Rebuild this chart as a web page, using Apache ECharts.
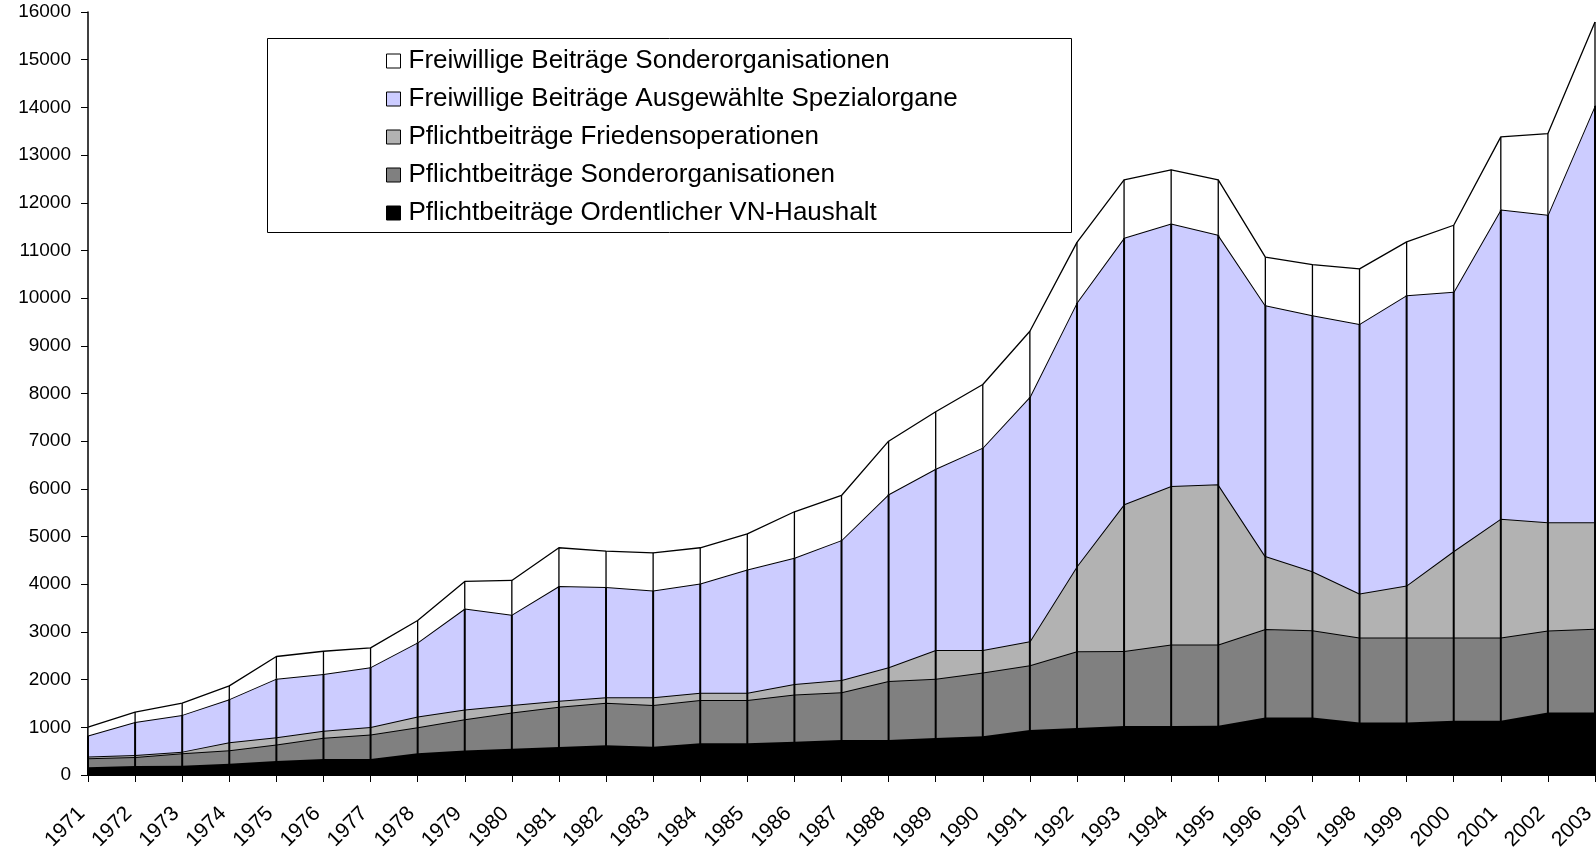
<!DOCTYPE html>
<html>
<head>
<meta charset="utf-8">
<script src="https://cdn.jsdelivr.net/npm/echarts@6/dist/echarts.min.js"></script>
<style>
html,body{margin:0;padding:0;background:#fff;}
#chart{width:1596px;height:849px;}
</style>
</head>
<body>
<div id="chart"></div>
<script>
const years = ['1971','1972','1973','1974','1975','1976','1977','1978','1979','1980','1981','1982','1983','1984','1985','1986','1987','1988','1989','1990','1991','1992','1993','1994','1995','1996','1997','1998','1999','2000','2001','2002','2003'];

const seriesNames = [
  'Pflichtbeiträge Ordentlicher VN-Haushalt',
  'Pflichtbeiträge Sonderorganisationen',
  'Pflichtbeiträge Friedensoperationen',
  'Freiwillige Beiträge Ausgewählte Spezialorgane',
  'Freiwillige Beiträge Sonderorganisationen'
];

const ordentlicherHaushalt = [160,190,195,235,295,335,335,455,515,550,585,625,595,665,665,695,735,735,775,810,945,985,1025,1030,1035,1205,1205,1100,1100,1140,1140,1310,1310];
const pflichtSonderorg = [190,185,260,285,345,445,515,545,655,760,845,890,875,910,910,995,1000,1235,1245,1340,1355,1610,1575,1705,1700,1855,1830,1785,1785,1745,1745,1720,1755];
const friedensoperationen = [40,45,35,165,150,150,155,225,205,160,125,115,160,150,150,220,255,290,600,470,505,1785,3075,3323,3360,1530,1235,920,1090,1810,2490,2270,2235];
const spezialorgane = [440,690,770,905,1230,1190,1255,1555,2115,1890,2407,2310,2240,2290,2585,2645,2935,3625,3800,4245,5127,5530,5589,5506,5232,5260,5370,5653,6085,5441,6481,6450,8740];
const freiwilligSonderorg = [175,210,245,280,465,475,405,460,570,720,803,755,790,750,748,965,937,1115,1196,1324,1374,1260,1216,1126,1153,1008,1064,1156,1120,1392,1525,1701,1750];

const yTicks = [0,1000,2000,3000,4000,5000,6000,7000,8000,9000,10000,11000,12000,13000,14000,15000,16000];

const layers = [ordentlicherHaushalt, pflichtSonderorg, friedensoperationen, spezialorgane, freiwilligSonderorg];
const fills = ['#000000', '#808080', '#B2B2B2', '#CCCCFF', '#FFFFFF'];

// stacked sums for drop lines
const dropData = years.map((y, i) => {
  const lower = layers.slice(0, 4).reduce((s, a) => s + a[i], 0);
  const total = lower + layers[4][i];
  return [i, lower, total];
});

const FONT = "'Liberation Sans', Arial, sans-serif";

const series = layers.map((arr, k) => ({
  name: seriesNames[k],
  type: 'line',
  stack: 'total',
  data: arr,
  symbol: 'none',
  smooth: false,
  z: 2 + k * 0.01,
  lineStyle: { color: '#000', width: k === 4 ? 1.3 : 2 },
  areaStyle: { color: fills[k], opacity: 1 },
  itemStyle: { color: fills[k], borderColor: '#000', borderWidth: 1 },
  emphasis: { disabled: true }
}));

series.push({
  name: 'drop',
  type: 'custom',
  z: 5,
  silent: true,
  data: dropData,
  encode: { x: 0, y: [1, 2] },
  renderItem: function (params, api) {
    const p0 = api.coord([api.value(0), 0]);
    const p1 = api.coord([api.value(0), api.value(1)]);
    const p2 = api.coord([api.value(0), api.value(2)]);
    return {
      type: 'group',
      children: [
        { type: 'line', shape: { x1: p0[0], y1: p0[1], x2: p1[0], y2: p1[1] }, style: { stroke: '#000', lineWidth: 2 } },
        { type: 'line', shape: { x1: p1[0], y1: p1[1], x2: p2[0], y2: p2[1] }, style: { stroke: '#000', lineWidth: 1.3 } }
      ]
    };
  }
});

const chart = echarts.init(document.getElementById('chart'), null, { renderer: 'canvas' });
chart.setOption({
  animation: false,
  backgroundColor: '#fff',
  textStyle: { fontFamily: FONT },
  grid: { left: 88, right: 1, top: 12, bottom: 74, containLabel: false, outerBoundsMode: 'none' },
  graphic: [{
    type: 'rect', z: 3,
    shape: { x: 267.5, y: 38.5, width: 804, height: 194 },
    style: { fill: '#fff', stroke: '#000', lineWidth: 1 }
  }],
  legend: {
    orient: 'vertical',
    left: 381, top: 43,
    z: 10,
    icon: 'rect',
    itemWidth: 14, itemHeight: 14,
    itemGap: 12,
    selectedMode: false,
    data: seriesNames.slice().reverse(),
    itemStyle: { borderColor: '#000', borderWidth: 1 },
    textStyle: { fontFamily: FONT, fontSize: 26, color: '#000', lineHeight: 26, padding: [0, 0, 0, 3] }
  },
  xAxis: {
    type: 'category',
    data: years,
    boundaryGap: false,
    axisLine: { lineStyle: { color: '#000', width: 1 } },
    axisTick: { show: true, interval: 0, length: 7, lineStyle: { color: '#000' } },
    axisLabel: { interval: 0, rotate: 45, margin: 29, fontSize: 21, color: '#000', fontFamily: FONT, padding: [0, 9, 0, 0] },
    splitLine: { show: false }
  },
  yAxis: {
    type: 'value',
    min: yTicks[0], max: yTicks[yTicks.length - 1], interval: 1000,
    axisLine: { show: true, lineStyle: { color: '#000', width: 1.5 } },
    axisTick: { show: true, length: 7, lineStyle: { color: '#000' } },
    axisLabel: { margin: 17, fontSize: 19, color: '#000', fontFamily: FONT, formatter: function (v) { return String(v); } },
    splitLine: { show: false }
  },
  series: series
});
</script>
</body>
</html>
